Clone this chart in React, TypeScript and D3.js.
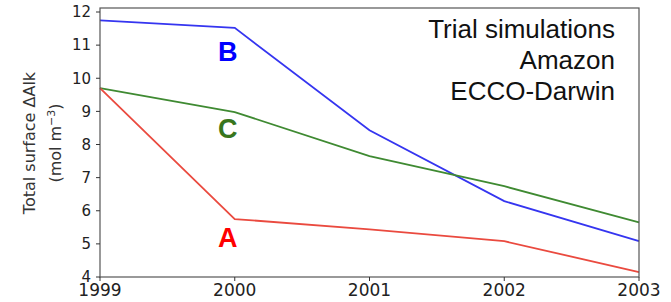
import React from 'react';
import * as d3 from 'd3';

const years = [1999, 2000, 2001, 2002, 2003];
const runA = [9.7, 5.75, 5.44, 5.08, 4.15];
const runB = [11.75, 11.52, 8.43, 6.29, 5.08];
const runC = [9.7, 8.98, 7.65, 6.74, 5.65];
const yTicks = [4, 5, 6, 7, 8, 9, 10, 11, 12];
const noteLines = ['Trial simulations', 'Amazon', 'ECCO-Darwin'];

const W = 671, H = 302;
const left = 100, right = 639, top = 8, bottom = 277;

const App = () => {
    const x = d3.scaleLinear().domain([1999, 2003]).range([left, right]);
    const y = d3.scaleLinear().domain([4, 12]).range([bottom, 12]);
    const line = (vals: number[]) =>
        d3.line<number>().x((d, i) => x(years[i])).y((d) => y(d))(vals) || '';

    const series = [
        { vals: runB, color: '#3535f0' },
        { vals: runC, color: '#3f8a32' },
        { vals: runA, color: '#ea4a3f' },
    ];
    const tickFont = 'DejaVu Sans, sans-serif';
    const sans = 'Liberation Sans, Arial, sans-serif';
    const midY = 143;

    return (
        <svg width={W} height={H} style={{ position: 'absolute', left: 0, top: 0 }}>
            <rect width={W} height={H} fill="#fff" />
            {series.map((s, i) => (
                <path key={i} d={line(s.vals)} fill="none" stroke={s.color} strokeWidth={1.8} />
            ))}
            {/* frame */}
            <rect x={left} y={top} width={right - left} height={bottom - top} fill="none" stroke="#555" strokeWidth={1.2} />
            {yTicks.map((t) => (
                <g key={t}>
                    <line x1={left - 4} x2={left} y1={y(t)} y2={y(t)} stroke="#333" />
                    <text x={left - 9} y={y(t)} dy="0.35em" textAnchor="end" fontSize={15} fontFamily={tickFont} fill="#222">{t}</text>
                </g>
            ))}
            {years.map((t) => (
                <g key={t}>
                    <line x1={x(t)} x2={x(t)} y1={bottom} y2={bottom + 4} stroke="#333" />
                    <text x={x(t)} y={bottom + 19} textAnchor="middle" fontSize={17} fontFamily={tickFont} fill="#222">{t}</text>
                </g>
            ))}
            <text transform={`translate(35,${midY}) rotate(-90)`} textAnchor="middle" fontSize={16} fontFamily={tickFont} fill="#333">
                Total surface ΔAlk
            </text>
            <text transform={`translate(61,${midY}) rotate(-90)`} textAnchor="middle" fontSize={16} fontFamily={tickFont} fill="#333">
                (mol m<tspan dy="-6" fontSize={11}>−3</tspan><tspan dy="6">)</tspan>
            </text>
            {noteLines.map((s, i) => (
                <text key={s} x={615} y={38 + i * 31} textAnchor="end" fontSize={26} fontFamily={sans} fill="#111">{s}</text>
            ))}
            <text x={x(2000) - 7} y={61} textAnchor="middle" fontSize={27} fontWeight="bold" fontFamily={sans} fill="#0000ff">B</text>
            <text x={x(2000) - 7} y={138} textAnchor="middle" fontSize={27} fontWeight="bold" fontFamily={sans} fill="#38761d">C</text>
            <text x={x(2000) - 7} y={247} textAnchor="middle" fontSize={27} fontWeight="bold" fontFamily={sans} fill="#ff0000">A</text>
        </svg>
    );
};

export default App;
